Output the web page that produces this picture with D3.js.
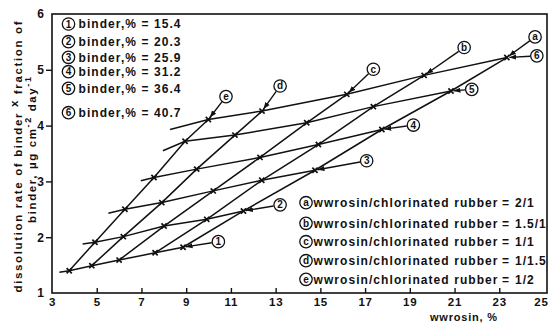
<!DOCTYPE html>
<html>
<head>
<meta charset="utf-8">
<script src="https://cdn.jsdelivr.net/npm/d3@7"></script>
<style>
  body { margin: 0; background: #fff; }
  text { font-family: "Liberation Sans", Arial, sans-serif; font-weight: bold; fill: #111; }
</style>
</head>
<body>
<div id="chart"></div>
<script>
const xTicks = [3, 5, 7, 9, 11, 13, 15, 17, 19, 21, 23, 25];
const yTicks = [1, 2, 3, 4, 5, 6];

const binderIds = ['1', '2', '3', '4', '5', '6'];
const binderPct = ['15.4', '20.3', '25.9', '31.2', '36.4', '40.7'];
const ratioIds = ['a', 'b', 'c', 'd', 'e'];
const ratioText = ['2/1', '1.5/1', '1/1', '1/1.5', '1/2'];

// wwrosin % / dissolution rate at each cross, binder 1..6
const rosinA = [8.86, 11.56, 14.76, 17.75, 20.84, 23.34];
const rateA = [1.82, 2.47, 3.2, 3.93, 4.62, 5.22];
const rosinB = [7.61, 9.92, 12.38, 14.91, 17.37, 19.64];
const rateB = [1.72, 2.32, 3.02, 3.66, 4.34, 4.9];
const rosinC = [6.0, 8.01, 10.21, 12.3, 14.39, 16.18];
const rateC = [1.59, 2.2, 2.83, 3.43, 4.05, 4.56];
const rosinD = [4.78, 6.19, 7.91, 9.47, 11.18, 12.39];
const rateD = [1.49, 2.01, 2.62, 3.22, 3.83, 4.26];
const rosinE = [3.77, 4.92, 6.26, 7.56, 8.95, 9.99];
const rateE = [1.4, 1.91, 2.5, 3.07, 3.72, 4.11];

// left ends of the binder lines
const binderStartX = [3.33, 4.37, 5.52, 6.97, 7.96, 8.28];
const binderStartY = [1.37, 1.88, 2.43, 3.01, 3.55, 3.93];

// circled labels on the lines
const binderLabelX = [10.44, 13.2, 17.07, 19.16, 21.77, 24.68];
const binderLabelY = [1.92, 2.58, 3.37, 4.01, 4.65, 5.25];
const ratioLabelX = [24.6, 21.43, 17.37, 13.2, 10.78];
const ratioLabelY = [5.59, 5.4, 5.01, 4.71, 4.52];

const rosin = [rosinA, rosinB, rosinC, rosinD, rosinE];
const rate = [rateA, rateB, rateC, rateD, rateE];

const width = 549;
const height = 324;
const margin = { top: 14, right: 5, bottom: 31, left: 52 };

const svg = d3.select('#chart').append('svg')
  .attr('width', width)
  .attr('height', height);

const x = d3.scaleLinear().domain([3, 25]).range([margin.left, 544]);
const y = d3.scaleLinear().domain([1, 6]).range([height - margin.bottom, margin.top]);

const defs = svg.append('defs');
defs.append('marker')
  .attr('id', 'arrow')
  .attr('viewBox', '0 -3 7 6')
  .attr('refX', 7)
  .attr('refY', 0)
  .attr('markerWidth', 7)
  .attr('markerHeight', 6)
  .attr('markerUnits', 'userSpaceOnUse')
  .attr('orient', 'auto')
  .append('path')
  .attr('d', 'M0,-2.6L7,0L0,2.6Z')
  .attr('fill', '#111');

// frame
svg.append('rect')
  .attr('x', x(3))
  .attr('y', y(6))
  .attr('width', x(25) - x(3) + 3)
  .attr('height', y(1) - y(6))
  .attr('fill', 'none')
  .attr('stroke', '#111')
  .attr('stroke-width', 1.6);

// axes
const bottomAxis = d3.axisBottom(x).tickValues(xTicks).tickSize(-5).tickPadding(5).tickFormat(d3.format('d'));
const gx = svg.append('g')
  .attr('transform', `translate(0,${y(1)})`)
  .call(bottomAxis);
gx.select('.domain').remove();
gx.selectAll('.tick line').attr('stroke', '#111').attr('stroke-width', 1.4);
gx.selectAll('.tick text').attr('font-size', 11.5).attr('font-family', null).attr('letter-spacing', 0.8);
gx.selectAll('.tick').filter((d) => d === 3 || d === 25).select('line').remove();
gx.selectAll('.tick').filter((d) => d === 25).select('text').attr('dx', -3);

const leftAxis = d3.axisLeft(y).tickValues(yTicks).tickSize(6).tickPadding(2).tickFormat(d3.format('d'));
const gy = svg.append('g')
  .attr('transform', `translate(${x(3)},0)`)
  .call(leftAxis);
gy.select('.domain').remove();
gy.selectAll('.tick line').attr('stroke', '#111').attr('stroke-width', 1.4);
gy.selectAll('.tick text').attr('font-size', 12).attr('font-family', null);
gy.selectAll('.tick').filter((d) => d === 1 || d === 6).select('line').remove();

// axis titles
svg.append('text')
  .attr('x', 430)
  .attr('y', 321)
  .attr('font-size', 11)
  .attr('textLength', 67)
  .text('wwrosin, %');

const yl1 = svg.append('text')
  .attr('transform', 'translate(22,157) rotate(-90)')
  .attr('text-anchor', 'middle')
  .attr('font-size', 11.5)
  .attr('textLength', 271);
yl1.append('tspan').text('dissolution rate of binder ');
yl1.append('tspan').attr('baseline-shift', '30%').text('x');
yl1.append('tspan').text(' fraction of');

const yl2 = svg.append('text')
  .attr('transform', 'translate(36,150) rotate(-90)')
  .attr('text-anchor', 'middle')
  .attr('font-size', 11.5)
  .attr('textLength', 146);
yl2.append('tspan').text('binder, µg cm');
yl2.append('tspan').attr('baseline-shift', 'super').attr('font-size', 9).text('-2');
yl2.append('tspan').text(' day');
yl2.append('tspan').attr('baseline-shift', 'super').attr('font-size', 9).text('-1');

// lines
const line = d3.line().x((d) => x(d[0])).y((d) => y(d[1]));
const plot = svg.append('g')
  .attr('fill', 'none')
  .attr('stroke', '#111')
  .attr('stroke-width', 1.5);

const ratioLines = ratioIds.map((id, i) => rosin[i].map((v, j) => [v, rate[i][j]]));
plot.selectAll('path.ratio')
  .data(ratioLines)
  .join('path')
  .attr('class', 'ratio')
  .attr('d', line);

const binderLines = binderIds.map((id, j) => {
  const pts = [[binderStartX[j], binderStartY[j]]];
  for (let i = ratioIds.length - 1; i >= 0; i--) pts.push([rosin[i][j], rate[i][j]]);
  return pts;
});
plot.selectAll('path.binder')
  .data(binderLines)
  .join('path')
  .attr('class', 'binder')
  .attr('d', line);

// crosses
const crosses = [];
ratioIds.forEach((id, i) => rosin[i].forEach((v, j) => crosses.push([v, rate[i][j]])));
svg.append('g')
  .selectAll('path')
  .data(crosses)
  .join('path')
  .attr('d', (d) => {
    const cx = x(d[0]), cy = y(d[1]), s = 2.6;
    return `M${cx - s},${cy - s}L${cx + s},${cy + s}M${cx - s},${cy + s}L${cx + s},${cy - s}`;
  })
  .attr('stroke', '#111')
  .attr('stroke-width', 1.7);

// circled labels with leaders
const r = 6.2;
function circled(g, cx, cy, label, size) {
  g.append('circle')
    .attr('cx', cx).attr('cy', cy).attr('r', r)
    .attr('fill', '#fff').attr('stroke', '#111').attr('stroke-width', 1.3);
  g.append('text')
    .attr('x', cx).attr('y', cy + 3.5)
    .attr('text-anchor', 'middle')
    .attr('font-size', size)
    .text(label);
}
function leader(g, fx, fy, tx, ty) {
  const dx = tx - fx, dy = ty - fy, len = Math.hypot(dx, dy);
  g.append('line')
    .attr('x1', fx + (dx / len) * (r + 0.5))
    .attr('y1', fy + (dy / len) * (r + 0.5))
    .attr('x2', tx - (dx / len) * 2.5)
    .attr('y2', ty - (dy / len) * 2.5)
    .attr('stroke', '#111')
    .attr('stroke-width', 1.4)
    .attr('marker-end', 'url(#arrow)');
}

const labels = svg.append('g');
binderIds.forEach((id, j) => {
  const lx = x(binderLabelX[j]), ly = y(binderLabelY[j]);
  leader(labels, lx, ly, x(rosinA[j]), y(rateA[j]));
  circled(labels, lx, ly, id, 10);
});
ratioIds.forEach((id, i) => {
  const lx = x(ratioLabelX[i]), ly = y(ratioLabelY[i]);
  leader(labels, lx, ly, x(rosin[i][5]), y(rate[i][5]));
  circled(labels, lx, ly, id, 10);
});

// legend of binder lines (top left)
const legendRowsB = [24, 41.7, 57.3, 71.7, 88.3, 112.7];
const legB = svg.append('g');
binderIds.forEach((id, j) => {
  circled(legB, 68.5, legendRowsB[j], id, 10);
  legB.append('text')
    .attr('x', 78.5)
    .attr('y', legendRowsB[j] + 4.3)
    .attr('font-size', 12)
    .attr('textLength', 102)
    .text(`binder,% = ${binderPct[j]}`);
});

// legend of ratio lines (bottom right)
const legendRowsR = [202.7, 223.3, 241.7, 260.7, 279.3];
const legR = svg.append('g');
ratioIds.forEach((id, i) => {
  circled(legR, 306, legendRowsR[i], id, 10);
  legR.append('text')
    .attr('x', 313.5)
    .attr('y', legendRowsR[i] + 4.3)
    .attr('font-size', 12)
    .attr('textLength', 184)
    .text('wwrosin/chlorinated rubber');
  legR.append('text')
    .attr('x', 502)
    .attr('y', legendRowsR[i] + 4.3)
    .attr('font-size', 12)
    .text('=');
  legR.append('text')
    .attr('x', 515)
    .attr('y', legendRowsR[i] + 4.3)
    .attr('font-size', 12)
    .attr('letter-spacing', 1)
    .text(ratioText[i]);
});
</script>
</body>
</html>
